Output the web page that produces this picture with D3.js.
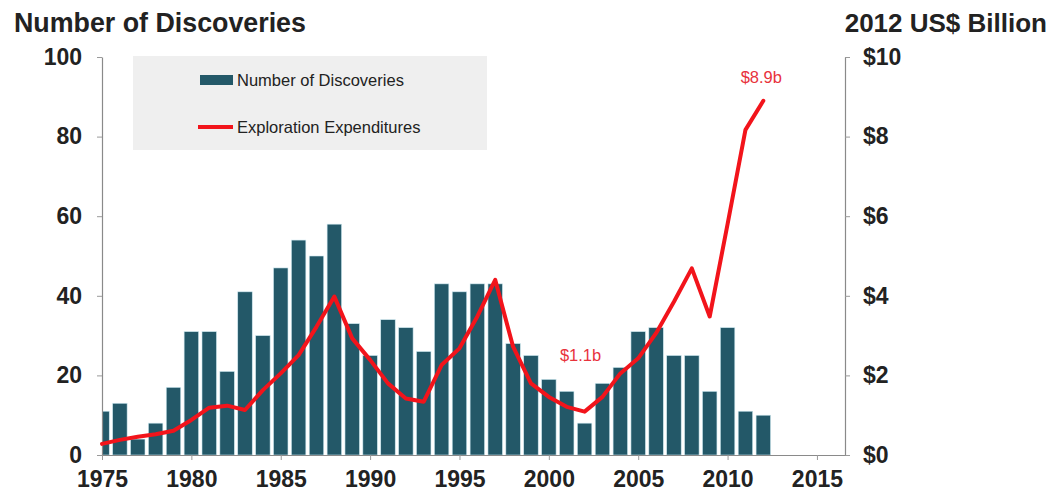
<!DOCTYPE html>
<html>
<head>
<meta charset="utf-8">
<script src="https://cdn.jsdelivr.net/npm/d3@7"></script>
<style>
  body { margin: 0; background: #fff; }
  svg text { font-family: "Liberation Sans", Arial, sans-serif; }
</style>
</head>
<body>
<script>
// data
const years = d3.range(1975, 2013);
const discoveries = [11, 13, 4, 8, 17, 31, 31, 21, 41, 30, 47, 54, 50, 58, 33, 25, 34, 32, 26, 43,
                     41, 43, 43, 28, 25, 19, 16, 8, 18, 22, 31, 32, 25, 25, 16, 32, 11, 10];
const expenditures = [0.28, 0.38, 0.46, 0.52, 0.61, 0.88, 1.19, 1.24, 1.13, 1.63, 2.05, 2.51, 3.22, 3.98,
                      2.93, 2.39, 1.8, 1.42, 1.34, 2.26, 2.68, 3.48, 4.4, 2.72, 1.8, 1.46, 1.21, 1.09,
                      1.46, 2.05, 2.43, 3.06, 3.85, 4.69, 3.48, 5.8, 8.17, 8.9];
const xTicks = [1975, 1980, 1985, 1990, 1995, 2000, 2005, 2010, 2015];
const leftTicks = [0, 20, 40, 60, 80, 100];
const rightTicks = [0, 2, 4, 6, 8, 10];

const W = 1051, H = 493;
const m = { top: 57, right: 206, bottom: 38, left: 102 };
const w = W - m.left - m.right;
const h = H - m.top - m.bottom;

const svg = d3.select("body").append("svg")
    .attr("width", W)
    .attr("height", H);

const g = svg.append("g").attr("transform", "translate(" + m.left + "," + m.top + ")");

// x is a date-like axis: one unit per year, first bar centred on the axis
const x = d3.scaleLinear().domain([1975, 2016.57]).range([0, w]);
const yL = d3.scaleLinear().domain([0, 100]).range([h, 0]);
const yR = d3.scaleLinear().domain([0, 10]).range([h, 0]);
const barW = 14.5;

g.append("clipPath").attr("id", "plot")
  .append("rect").attr("x", 0).attr("y", -10).attr("width", w).attr("height", h + 10);

// legend box
const lg = g.append("g");
lg.append("rect")
    .attr("x", 31).attr("y", -1)
    .attr("width", 354).attr("height", 94)
    .attr("fill", "#efefef");

// bars
g.append("g").attr("clip-path", "url(#plot)")
  .selectAll("rect")
  .data(discoveries)
  .enter()
  .append("rect")
    .attr("x", (d, i) => x(years[i]) - barW / 2)
    .attr("y", d => yL(d))
    .attr("width", barW)
    .attr("height", d => h - yL(d))
    .attr("fill", "#235868")
    .attr("stroke", "#cfe9f1")
    .attr("stroke-width", 0.6);

// axes
const axisStyle = sel => {
  sel.select(".domain").attr("stroke", "#8a8a8a").attr("stroke-width", 1.2);
  sel.selectAll(".tick line").attr("stroke", "#9a9a9a");
  sel.selectAll(".tick text")
    .attr("fill", "#222")
    .attr("font-size", "23px")
    .attr("font-weight", "bold");
};

g.append("g")
    .call(d3.axisLeft(yL).tickValues(leftTicks).tickSize(5).tickSizeOuter(0).tickPadding(15))
    .call(axisStyle);

g.append("g")
    .attr("transform", "translate(" + w + ",0)")
    .call(d3.axisRight(yR).tickValues(rightTicks).tickSize(5).tickSizeOuter(0).tickPadding(13)
        .tickFormat(d => "$" + d))
    .call(axisStyle);

g.append("g")
    .attr("transform", "translate(0," + h + ")")
    .call(d3.axisBottom(x).tickValues(xTicks).tickSize(5).tickSizeOuter(0).tickPadding(11)
        .tickFormat(d3.format("d")))
    .call(axisStyle);

// expenditure line
const line = d3.line()
    .x((d, i) => x(years[i]))
    .y(d => yR(d));

g.append("path")
    .datum(expenditures)
    .attr("d", line)
    .attr("fill", "none")
    .attr("stroke", "#f2141b")
    .attr("stroke-width", 4)
    .attr("stroke-linejoin", "round")
    .attr("stroke-linecap", "round");

// annotations
const last = expenditures.length - 1;
g.append("text")
    .attr("x", x(years[last]) - 2)
    .attr("y", yR(expenditures[last]) - 18)
    .attr("text-anchor", "middle")
    .attr("font-size", "16.5px")
    .attr("fill", "#e8323c")
    .text("$" + expenditures[last] + "b");

const lowI = 27; // 2002 trough
g.append("text")
    .attr("x", x(years[lowI]) - 4)
    .attr("y", yR(expenditures[lowI]) - 51)
    .attr("text-anchor", "middle")
    .attr("font-size", "16.5px")
    .attr("fill", "#e8323c")
    .text("$" + expenditures[lowI].toFixed(1) + "b");

// legend entries
lg.append("rect")
    .attr("x", 98).attr("y", 18)
    .attr("width", 33).attr("height", 10)
    .attr("fill", "#235868");
lg.append("text")
    .attr("x", 135).attr("y", 29)
    .attr("font-size", "16.5px")
    .attr("fill", "#222")
    .text("Number of Discoveries");

lg.append("line")
    .attr("x1", 96).attr("x2", 131)
    .attr("y1", 70).attr("y2", 70)
    .attr("stroke", "#f2141b")
    .attr("stroke-width", 4);
lg.append("text")
    .attr("x", 135).attr("y", 76)
    .attr("font-size", "16.5px")
    .attr("fill", "#222")
    .text("Exploration Expenditures");

// axis titles
svg.append("text")
    .attr("x", 14).attr("y", 32)
    .attr("font-size", "26.8px")
    .attr("font-weight", "bold")
    .attr("fill", "#222")
    .text("Number of Discoveries");

svg.append("text")
    .attr("x", 1047).attr("y", 32)
    .attr("text-anchor", "end")
    .attr("font-size", "26px")
    .attr("font-weight", "bold")
    .attr("fill", "#222")
    .text("2012 US$ Billion");
</script>
</body>
</html>
